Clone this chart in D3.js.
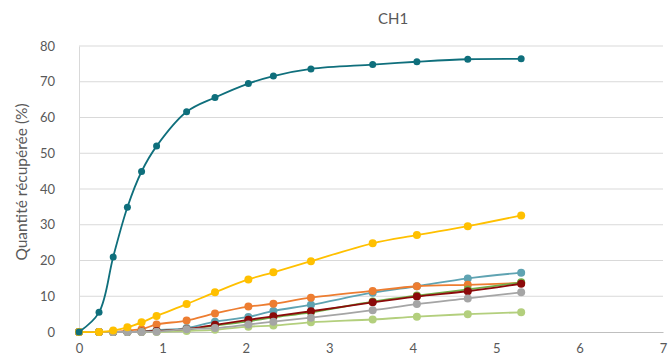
<!DOCTYPE html>
<html>
<head>
<meta charset="utf-8">
<script src="https://cdn.jsdelivr.net/npm/d3@7"></script>
<style>
  html, body { margin: 0; padding: 0; background: #fff; }
  svg { display: block; }
  text { font-family: "Lato", "Open Sans", sans-serif; fill: #595959; }
</style>
</head>
<body>
<script>
// Time points (h)
const times = [0, 0.24, 0.41, 0.58, 0.75, 0.93, 1.29, 1.63, 2.03, 2.33, 2.78, 3.52, 4.05, 4.66, 5.30];

// Recovered quantity (%) per series
const serieTeal      = [0, 5.5, 21.0, 34.9, 44.9, 52.0, 61.6, 65.6, 69.5, 71.6, 73.6, 74.8, 75.6, 76.3, 76.4];
const serieJaune     = [0, 0, 0.4, 1.3, 2.7, 4.5, 7.8, 11.1, 14.7, 16.7, 19.8, 24.8, 27.1, 29.6, 32.6];
const serieOrange    = [0, 0, 0, 0.4, 0.8, 2.1, 3.2, 5.2, 7.1, 7.9, 9.6, 11.5, 12.8, 13.2, 13.7];
const serieBleu      = [0, 0, 0, 0, 0.2, 0.5, 1.1, 2.9, 4.2, 5.9, 7.6, 11.0, 12.8, 15.0, 16.6];
const serieVert      = [0, 0, 0, 0, 0.1, 0.2, 0.7, 1.8, 3.0, 4.1, 5.5, 8.5, 10.2, 11.9, 13.9];
const serieBordeaux  = [0, 0, 0, 0, 0.1, 0.3, 0.8, 2.0, 3.4, 4.4, 5.8, 8.3, 9.9, 11.4, 13.5];
const serieVertClair = [0, 0, 0, 0, 0, 0, 0.3, 0.6, 1.5, 1.8, 2.7, 3.5, 4.3, 5.0, 5.5];
const serieGris      = [0, 0, 0, 0, 0, 0.1, 0.8, 1.1, 2.1, 2.9, 4.0, 6.1, 7.8, 9.4, 11.1];

const xTicks = [0, 1, 2, 3, 4, 5, 6, 7];
const yTicks = [0, 10, 20, 30, 40, 50, 60, 70, 80];

const title = "CH1";
const yTitle = "Quantité récupérée (%)";

// Drawing order (back to front) with colours
const series = [
  { values: serieBleu,      color: "#5fa3b2", r: 4 },
  { values: serieOrange,    color: "#ed7d31", r: 4 },
  { values: serieVert,      color: "#70ad47", r: 4 },
  { values: serieBordeaux,  color: "#8b0a0a", r: 4 },
  { values: serieVertClair, color: "#b3cf7d", r: 4 },
  { values: serieGris,      color: "#a5a5a5", r: 4 },
  { values: serieJaune,     color: "#ffc000", r: 4 },
  { values: serieTeal,      color: "#0f6f7c", r: 3.5 }
];

const W = 669, H = 362;
const m = { left: 79, right: 6, top: 46, bottom: 30 };

const svg = d3.select("body").append("svg").attr("width", W).attr("height", H);

const x = d3.scaleLinear().domain([0, 7]).range([m.left, W - m.right]);
const y = d3.scaleLinear().domain([0, 80]).range([H - m.bottom, m.top]);

// Horizontal gridlines
svg.append("g")
  .selectAll("line")
  .data(yTicks.filter(d => d > 0))
  .join("line")
  .attr("x1", x(0)).attr("x2", x(7))
  .attr("y1", d => y(d)).attr("y2", d => y(d))
  .attr("stroke", "#d9d9d9").attr("stroke-width", 1);

// Axes
const yAxis = svg.append("g")
  .attr("transform", `translate(${x(0)},0)`)
  .call(d3.axisLeft(y).tickValues(yTicks).tickFormat(d3.format("d")).tickSize(0).tickPadding(24));
yAxis.select(".domain").attr("stroke", "#d9d9d9");
yAxis.selectAll("text").style("font-size", "13px").style("fill", "#595959")
  .style("font-family", "Lato, 'Open Sans', sans-serif");

const xAxis = svg.append("g")
  .attr("transform", `translate(0,${y(0)})`)
  .call(d3.axisBottom(x).tickValues(xTicks).tickFormat(d3.format("d")).tickSize(0).tickPadding(12));
xAxis.select(".domain").attr("stroke", "#bfbfbf");
xAxis.selectAll("text").style("font-size", "13px").style("fill", "#595959")
  .style("font-family", "Lato, 'Open Sans', sans-serif");

// Titles
svg.append("text")
  .attr("x", 393).attr("y", 24)
  .attr("text-anchor", "middle")
  .style("font-size", "15px")
  .text(title);

svg.append("text")
  .attr("transform", `translate(27,${182}) rotate(-90)`)
  .attr("text-anchor", "middle")
  .style("font-size", "15.5px")
  .text(yTitle);

// Series lines and markers
const line = d3.line()
  .x((d, i) => x(times[i]))
  .y(d => y(d))
  .curve(d3.curveCatmullRom.alpha(0.5));

const gSeries = svg.append("g");
series.forEach(s => {
  const g = gSeries.append("g");
  g.append("path")
    .datum(s.values)
    .attr("d", line)
    .attr("fill", "none")
    .attr("stroke", s.color)
    .attr("stroke-width", 1.8);
  g.selectAll("circle")
    .data(s.values)
    .join("circle")
    .attr("cx", (d, i) => x(times[i]))
    .attr("cy", d => y(d))
    .attr("r", s.r)
    .attr("fill", s.color);
});
</script>
</body>
</html>
